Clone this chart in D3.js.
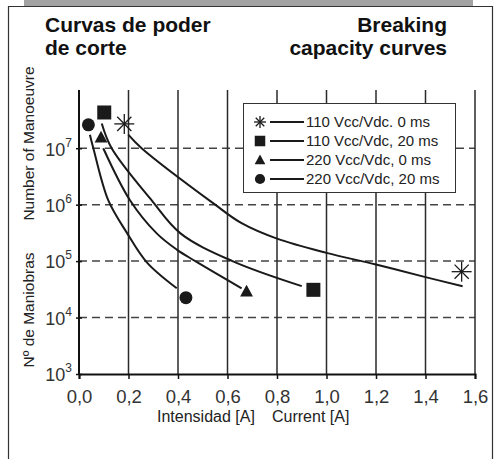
<!DOCTYPE html>
<html>
<head>
<meta charset="utf-8">
<script src="https://cdn.jsdelivr.net/npm/d3@7"></script>
<style>
  body { margin: 0; background: #fff; }
  text { font-family: "Liberation Sans", Arial, sans-serif; }
</style>
</head>
<body>
<div id="chart"></div>
<script>
// series names (legend order)
var seriesNames = ["110 Vcc/Vdc. 0 ms", "110 Vcc/Vdc, 20 ms", "220 Vcc/Vdc, 0 ms", "220 Vcc/Vdc, 20 ms"];
var seriesSymbols = ["asterisk", "square", "triangle", "circle"];

// curve points [current A, number of manoeuvres]
var curve110_0 = [[0.199, 1.74e7], [0.253, 1.0e7], [0.55, 1.0e6], [0.657, 4.7e5], [0.8, 2.5e5],
                  [1.0, 1.4e5], [1.2, 8.7e4], [1.4, 5.2e4], [1.55, 3.6e4]];
var curve110_20 = [[0.092, 2.75e7], [0.132, 1.0e7], [0.293, 1.2e6], [0.41, 3.1e5], [0.62, 1.0e5],
                   [0.9, 3.6e4]];
var curve220_0 = [[0.098, 1.0e7], [0.206, 1.2e6], [0.314, 3.1e5], [0.395, 1.6e5], [0.47, 1.0e5],
                  [0.657, 3.3e4]];
var curve220_20 = [[0.044, 1.74e7], [0.058, 1.0e7], [0.118, 1.2e6], [0.193, 3.2e5], [0.274, 9.5e4],
                   [0.395, 3.3e4]];

// end point markers
var marks110_0 = [[0.183, 2.7e7], [1.546, 6.5e4]];
var marks110_20 = [[0.102, 4.3e7], [0.947, 3.1e4]];
var marks220_0 = [[0.089, 1.55e7], [0.677, 2.9e4]];
var marks220_20 = [[0.038, 2.6e7], [0.432, 2.25e4]];

var curves = [curve110_0, curve110_20, curve220_0, curve220_20];
var marks = [marks110_0, marks110_20, marks220_0, marks220_20];

// tick values
var xTicks = [0, 0.2, 0.4, 0.6, 0.8, 1.0, 1.2, 1.4, 1.6];
var yTicks = [1e3, 1e4, 1e5, 1e6, 1e7];
var yGrid = [1e4, 1e5, 1e6, 1e7];

var W = 500, H = 459;
var svg = d3.select("#chart").append("svg")
    .attr("width", W)
    .attr("height", H);

// frame
svg.append("rect").attr("x", 24).attr("y", 0).attr("width", 449).attr("height", 6).attr("fill", "#a3a3a3");
svg.append("path")
    .attr("d", "M8.5,459 V6.5 H492.5 V459")
    .attr("fill", "none").attr("stroke", "#333").attr("stroke-width", 1.2);

// titles
var title = svg.append("g").attr("font-weight", "bold").attr("font-size", "21px").attr("fill", "#111");
title.append("text").attr("x", 45).attr("y", 32).text("Curvas de poder");
title.append("text").attr("x", 45).attr("y", 55).text("de corte");
title.append("text").attr("x", 447).attr("y", 32).attr("text-anchor", "end").text("Breaking");
title.append("text").attr("x", 447).attr("y", 55).attr("text-anchor", "end").text("capacity curves");

var x = d3.scaleLinear().domain([0, 1.6]).range([79, 475]);
var y = d3.scaleLog().domain([1e3, 1e8]).range([374, 91.8]);
var yTop = 90;

// dashed horizontal grid
svg.append("g").selectAll("line")
    .data(yGrid)
  .enter().append("line")
    .attr("x1", x(0)).attr("x2", x(1.6))
    .attr("y1", function(d) { return y(d); })
    .attr("y2", function(d) { return y(d); })
    .attr("stroke", "#444").attr("stroke-width", 1.5)
    .attr("stroke-dasharray", "8,5");

// solid vertical grid
svg.append("g").selectAll("line")
    .data(xTicks.slice(1))
  .enter().append("line")
    .attr("x1", function(d) { return x(d); })
    .attr("x2", function(d) { return x(d); })
    .attr("y1", yTop).attr("y2", y(1e3))
    .attr("stroke", "#2a2a2a").attr("stroke-width", 1.5);

// x axis
var xAxis = svg.append("g")
    .attr("transform", "translate(0," + y(1e3) + ")")
    .call(d3.axisBottom(x)
      .tickValues(xTicks)
      .tickSize(5)
      .tickPadding(11)
      .tickFormat(function(d) { return d.toFixed(1).replace(".", ","); }));
xAxis.select(".domain").attr("stroke", "#111").attr("stroke-width", 2);
xAxis.selectAll(".tick line").attr("stroke", "#111").attr("stroke-width", 1.5);
xAxis.selectAll("text")
    .attr("font-size", "18.5px")
    .attr("font-family", "Liberation Sans, Arial, sans-serif")
    .attr("fill", "#333");

// y axis
var yAxis = svg.append("g")
    .attr("transform", "translate(" + x(0) + ",0)")
    .call(d3.axisLeft(y).tickValues(yTicks).tickSize(3).tickPadding(4));
yAxis.select(".domain").attr("d", "M0," + yTop + "V" + y(1e3))
    .attr("stroke", "#111").attr("stroke-width", 2);
yAxis.selectAll(".tick line").attr("x2", 3).attr("x1", -3).attr("stroke", "#111").attr("stroke-width", 1.5);
yAxis.selectAll(".tick text").each(function(d) {
  var t = d3.select(this).text("")
      .attr("font-size", "18px")
      .attr("font-family", "Liberation Sans, Arial, sans-serif")
      .attr("fill", "#333")
      .attr("dy", "0.38em")
      .attr("x", -7);
  t.append("tspan").text("10");
  t.append("tspan").attr("font-size", "12px").attr("dy", "-0.75em").text(Math.round(Math.log10(d)));
});

// axis titles
svg.append("text").attr("x", 157).attr("y", 422).attr("font-size", "16px").attr("fill", "#222").text("Intensidad [A]");
svg.append("text").attr("x", 272).attr("y", 422).attr("font-size", "16px").attr("fill", "#222").text("Current [A]");
svg.append("text").attr("transform", "translate(34,143.5) rotate(-90)").attr("text-anchor", "middle")
    .attr("font-size", "15.5px").attr("fill", "#222").text("Number of Manoeuvre");
svg.append("text").attr("transform", "translate(34,310) rotate(-90)").attr("text-anchor", "middle")
    .attr("font-size", "15.5px").attr("fill", "#222").text("Nº de Maniobras");

// curves
var line = d3.line()
    .x(function(d) { return x(d[0]); })
    .y(function(d) { return y(d[1]); })
    .curve(d3.curveCatmullRom.alpha(0.5));

svg.append("g").selectAll("path")
    .data(curves)
  .enter().append("path")
    .attr("d", line)
    .attr("fill", "none")
    .attr("stroke", "#1a1a1a")
    .attr("stroke-width", 2);

// marker drawing
function drawSymbol(g, type, size) {
  if (type === "asterisk") {
    var r = size;
    for (var k = 0; k < 4; k++) {
      var a = k * Math.PI / 4;
      g.append("line")
        .attr("x1", -r * Math.cos(a)).attr("y1", -r * Math.sin(a))
        .attr("x2", r * Math.cos(a)).attr("y2", r * Math.sin(a))
        .attr("stroke", "#1a1a1a").attr("stroke-width", 1.3);
    }
  } else if (type === "square") {
    g.append("rect").attr("x", -size * 0.7).attr("y", -size * 0.7)
      .attr("width", size * 1.4).attr("height", size * 1.4).attr("fill", "#1a1a1a");
  } else if (type === "triangle") {
    var s = size * 0.75;
    g.append("path").attr("d", "M0," + (-s * 1.0) + "L" + (s * 0.95) + "," + (s * 0.75) + "L" + (-s * 0.95) + "," + (s * 0.75) + "Z")
      .attr("fill", "#1a1a1a");
  } else {
    g.append("circle").attr("r", size * 0.68).attr("fill", "#1a1a1a");
  }
}

var symSizes = [10, 10, 9, 9.5];
marks.forEach(function(pts, i) {
  pts.forEach(function(p) {
    var g = svg.append("g").attr("transform", "translate(" + x(p[0]) + "," + y(p[1]) + ")");
    drawSymbol(g, seriesSymbols[i], symSizes[i]);
  });
});

// legend
var legend = svg.append("g");
legend.append("rect")
    .attr("x", 243.5).attr("y", 103.5).attr("width", 212).attr("height", 89)
    .attr("fill", "#fff").attr("stroke", "#333").attr("stroke-width", 1);
var legendSizes = [6, 7.5, 7.5, 7.5];
seriesNames.forEach(function(name, i) {
  var ly = 122 + i * 19;
  var g = legend.append("g").attr("transform", "translate(260," + ly + ")");
  drawSymbol(g, seriesSymbols[i], legendSizes[i]);
  legend.append("line").attr("x1", 270).attr("x2", 304).attr("y1", ly).attr("y2", ly)
      .attr("stroke", "#1a1a1a").attr("stroke-width", 2);
  legend.append("text").attr("x", 306).attr("y", ly).attr("dy", "0.35em")
      .attr("font-size", "15px").attr("fill", "#222").text(name);
});
</script>
</body>
</html>
